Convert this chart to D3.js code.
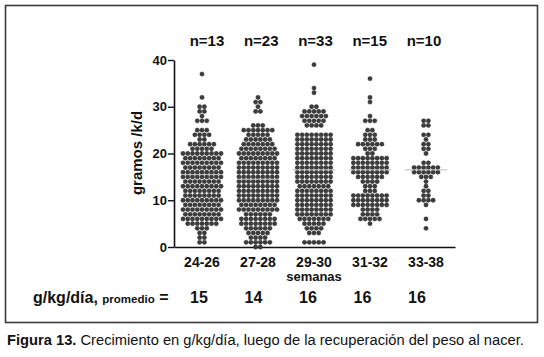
<!DOCTYPE html>
<html><head><meta charset="utf-8">
<script src="https://cdn.jsdelivr.net/npm/d3@7"></script>
<style>
html,body{margin:0;padding:0;background:#fff;}
svg{display:block;font-family:"Liberation Sans",Arial,sans-serif;}
</style></head>
<body><svg id="c" width="544" height="357"></svg>
<script>
const categories = ["24-26","27-28","29-30","31-32","33-38"];
const nLabels = ["n=13","n=23","n=33","n=15","n=10"];
const promedio = [15,14,16,16,16];
const yTicks = [0,10,20,30,40];
// [value, number of dots at that value]
const g2426 = [[37,1],[32,1],[30,2],[29,2],[28,1],[27,3],[25,3],[24,4],[23,2],[22,6],[21,5],[20,9],[19,8],[18,9],[17,8],[16,9],[15,9],[14,8],[13,9],[12,8],[11,8],[10,9],[9,8],[8,9],[7,8],[6,9],[5,7],[4,3],[3,2],[2,2],[1,2]];
const g2728 = [[32,1],[31,2],[30,1],[29,2],[26,3],[25,7],[24,5],[23,6],[22,7],[21,8],[20,9],[19,8],[18,9],[17,9],[16,9],[15,9],[14,9],[13,9],[12,9],[11,9],[10,9],[9,8],[8,9],[7,6],[6,8],[5,8],[4,6],[3,5],[2,4],[1,6],[0,2]];
const g2930 = [[39,1],[34,1],[33,1],[30,2],[29,5],[28,6],[27,5],[26,4],[24,8],[23,8],[22,8],[21,8],[20,8],[19,8],[18,8],[17,8],[16,8],[15,8],[14,8],[13,7],[12,8],[11,8],[10,8],[9,8],[8,8],[7,8],[6,7],[5,5],[4,4],[3,3],[1,5]];
const g3132 = [[36,1],[32,1],[31,1],[28,1],[27,3],[25,2],[24,3],[23,3],[22,6],[21,3],[20,2],[19,8],[18,8],[17,8],[16,8],[15,6],[14,4],[13,3],[12,3],[11,8],[10,8],[9,8],[8,4],[7,4],[6,5],[5,1]];
const g3338 = [[27,2],[26,2],[24,2],[23,1],[22,2],[21,2],[20,1],[18,2],[17,6],[16,6],[15,3],[14,1],[13,1],[12,2],[11,2],[10,4],[9,1],[6,1],[4,1]];
const groups = [g2426,g2728,g2930,g3132,g3338];

const svg = d3.select("#c");
svg.append("rect").attr("width",544).attr("height",357).attr("fill","#fff");
svg.append("rect").attr("x",5.5).attr("y",5.5).attr("width",532).attr("height",317)
  .attr("fill","none").attr("stroke","#3a3a3a").attr("stroke-width",1.6);

const y = d3.scaleLinear().domain([0,40]).range([247,60]);
const x = d3.scalePoint().domain(categories).range([202,426]);
const xN = d3.scalePoint().domain(categories).range([207,424]);
const xP = d3.scalePoint().domain(categories).range([199,417]);
const axisX = 174, axisEnd = 455;

// y axis
const ya = svg.append("g").attr("transform",`translate(${axisX},0)`)
  .call(d3.axisLeft(y).tickValues(yTicks).tickSize(6).tickPadding(1).tickSizeOuter(0));
ya.select(".domain").attr("stroke","#111").attr("stroke-width",1.6);
ya.selectAll(".tick line").attr("stroke","#111").attr("stroke-width",1.4);
ya.selectAll(".tick text").attr("font-size",13).attr("font-weight","bold").attr("fill","#111")
  .attr("font-family","Liberation Sans, Arial, sans-serif");

// x axis line and labels
const xa = svg.append("g").attr("transform",`translate(0,247)`)
  .call(d3.axisBottom(d3.scaleLinear().domain([0,1]).range([axisX,axisEnd])).tickValues([]).tickSizeOuter(0));
xa.select(".domain").attr("stroke","#111").attr("stroke-width",1.6);

svg.append("g").selectAll("text").data(categories).join("text")
  .attr("x",d=>x(d)).attr("y",267).attr("text-anchor","middle")
  .attr("font-size",14).attr("font-weight","bold").attr("fill","#111").text(d=>d);
svg.append("text").attr("x",x("29-30")).attr("y",281).attr("text-anchor","middle")
  .attr("font-size",13).attr("font-weight","bold").attr("fill","#111").text("semanas");

// y label
svg.append("text").attr("transform","translate(142,153) rotate(-90)").attr("text-anchor","middle")
  .attr("font-size",15).attr("font-weight","bold").attr("fill","#111").text("gramos /k/d");

// n labels
svg.append("g").selectAll("text").data(nLabels).join("text")
  .attr("x",(d,i)=>xN(categories[i])).attr("y",46).attr("text-anchor","middle")
  .attr("font-size",15).attr("font-weight","bold").attr("fill","#111").text(d=>d);

// dots
const step = 4.75, r = 2.15;
groups.forEach((g,gi)=>{
  const cx = x(categories[gi]);
  const pts = [];
  g.forEach(([v,c])=>{ for(let i=0;i<c;i++) pts.push({v, off:(i-(c-1)/2)*step}); });
  svg.append("g").selectAll("circle").data(pts).join("circle")
    .attr("cx",d=>cx+d.off).attr("cy",d=>y(d.v)).attr("r",r)
    .attr("fill","#3d3d3d").attr("stroke","#1e1e1e").attr("stroke-width",0.4);
  svg.append("line").attr("x1",cx-21).attr("x2",cx+21)
    .attr("y1",y(promedio[gi])-2.3).attr("y2",y(promedio[gi])-2.3)
    .attr("stroke","#b8b8b8").attr("stroke-width",1);
});

// promedio row
const pr = svg.append("text").attr("x",33).attr("y",303).attr("fill","#111").attr("font-weight","bold");
pr.append("tspan").attr("font-size",16).text("g/kg/día, ");
pr.append("tspan").attr("font-size",11.5).text("promedio");
pr.append("tspan").attr("font-size",16).text(" =");
svg.append("g").selectAll("text").data(promedio).join("text")
  .attr("x",(d,i)=>xP(categories[i])).attr("y",303).attr("text-anchor","middle")
  .attr("font-size",16).attr("font-weight","bold").attr("fill","#111").text(d=>d);

// caption
const cap = svg.append("text").attr("x",7).attr("y",345).attr("font-size",14.7).attr("fill","#111");
cap.append("tspan").attr("font-weight","bold").text("Figura 13.");
cap.append("tspan").text(" Crecimiento en g/kg/día, luego de la recuperación del peso al nacer.");
</script></body></html>
